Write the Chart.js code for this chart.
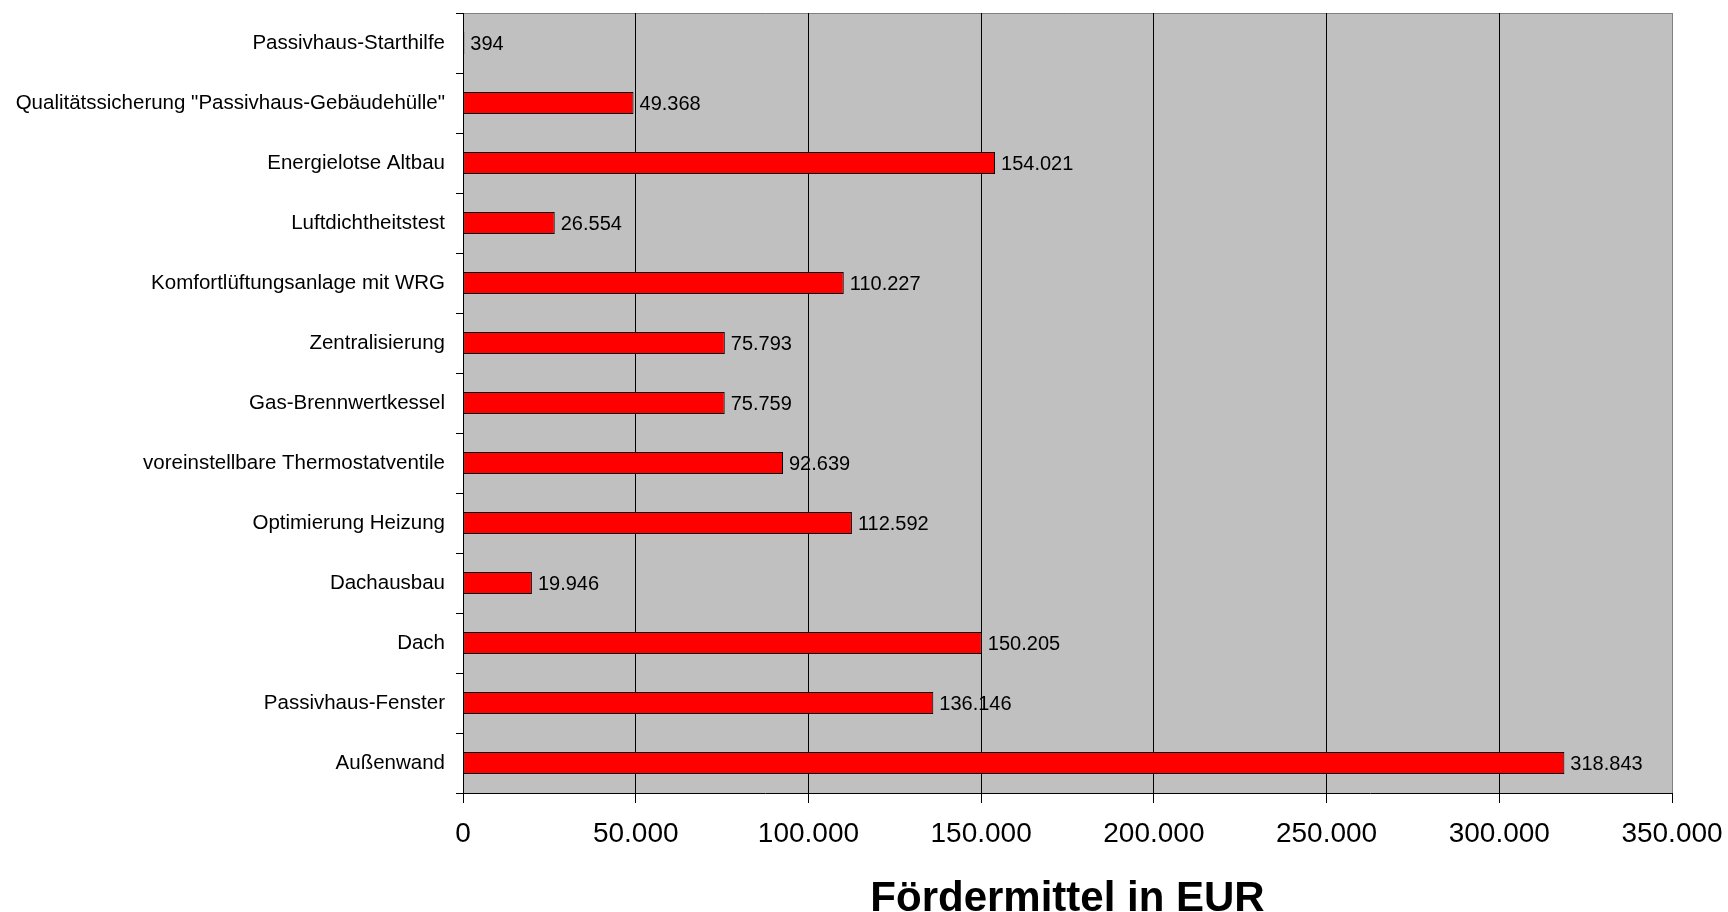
<!DOCTYPE html>
<html>
<head>
<meta charset="utf-8">
<script src="https://cdn.jsdelivr.net/npm/chart.js@4.4.1/dist/chart.umd.min.js"></script>
<style>
    html, body { margin: 0; padding: 0; background: #fff; }
    #wrap { width: 1728px; height: 912px; }
</style>
</head>
<body>
<div id="wrap"><canvas id="foerderChart" width="1728" height="912"></canvas></div>
<script>
const categories = [
    'Passivhaus-Starthilfe',
    'Qualitätssicherung "Passivhaus-Gebäudehülle"',
    'Energielotse Altbau',
    'Luftdichtheitstest',
    'Komfortlüftungsanlage mit WRG',
    'Zentralisierung',
    'Gas-Brennwertkessel',
    'voreinstellbare Thermostatventile',
    'Optimierung Heizung',
    'Dachausbau',
    'Dach',
    'Passivhaus-Fenster',
    'Außenwand'
];
const foerdermittel = [394, 49368, 154021, 26554, 110227, 75793, 75759, 92639, 112592, 19946, 150205, 136146, 318843];
const axisMax = 350000;
const axisStep = 50000;
const axisTitle = 'Fördermittel in EUR';

const FONT = '"Liberation Sans", Arial, sans-serif';

// German thousands separator
const fmt = (v) => String(v).replace(/\B(?=(\d{3})+(?!\d))/g, '.');

// grey plot background + grey top/right border
const plotBackground = {
    id: 'plotBackground',
    beforeDraw: (chart) => {
        const { ctx, chartArea: a } = chart;
        ctx.save();
        ctx.fillStyle = '#c0c0c0';
        ctx.fillRect(a.left, a.top, a.right - a.left, a.bottom - a.top);
        ctx.strokeStyle = '#808080';
        ctx.lineWidth = 1;
        ctx.beginPath();
        ctx.moveTo(a.left, a.top + 0.5);
        ctx.lineTo(a.right + 0.5, a.top + 0.5);
        ctx.lineTo(a.right + 0.5, a.bottom);
        ctx.stroke();
        ctx.restore();
    }
};

// value labels right of each bar
const valueLabels = {
    id: 'valueLabels',
    afterDatasetsDraw: (chart) => {
        const { ctx } = chart;
        const meta = chart.getDatasetMeta(0);
        ctx.save();
        ctx.font = '20px ' + FONT;
        ctx.fillStyle = '#000';
        ctx.textAlign = 'left';
        ctx.textBaseline = 'middle';
        meta.data.forEach((bar, i) => {
            ctx.fillText(fmt(foerdermittel[i]), bar.x + 6, bar.y + 1);
        });
        ctx.restore();
    }
};

const ctx = document.getElementById('foerderChart').getContext('2d');
const chart = new Chart(ctx, {
    type: 'bar',
    data: {
        labels: categories,
        datasets: [{
            data: foerdermittel,
            backgroundColor: '#ff0000',
            borderColor: '#000000',
            borderWidth: 1,
            borderSkipped: false,
            barPercentage: 0.37,
            categoryPercentage: 1
        }]
    },
    options: {
        indexAxis: 'y',
        responsive: false,
        animation: false,
        layout: { padding: { top: 13, right: 56, left: 0, bottom: 0 } },
        plugins: {
            legend: { display: false },
            tooltip: { enabled: false }
        },
        scales: {
            x: {
                min: 0,
                max: axisMax,
                ticks: {
                    stepSize: axisStep,
                    color: '#000',
                    padding: 14,
                    maxRotation: 0,
                    font: { family: FONT, size: 28 },
                    callback: (v) => fmt(v)
                },
                grid: {
                    color: (c) => (c.tick && c.tick.value === axisMax) ? '#808080' : '#000000',
                    tickColor: '#000000',
                    lineWidth: 1,
                    tickLength: 10
                },
                border: { color: '#000000', width: 1 },
                title: {
                    display: true,
                    text: axisTitle,
                    color: '#000',
                    padding: 0,
                    font: { family: FONT, size: 42, weight: 'bold', lineHeight: 0.62 }
                },
                afterFit: (scale) => {
                    scale.height = 119;
                    scale.paddingLeft = 0;
                    scale.paddingRight = 0;
                }
            },
            y: {
                ticks: {
                    color: '#000',
                    padding: 11,
                    font: { family: FONT, size: 20.5 }
                },
                grid: {
                    drawOnChartArea: false,
                    drawTicks: true,
                    tickLength: 7,
                    tickColor: '#000000',
                    offset: true
                },
                border: { color: '#000000', width: 1 },
                afterFit: (scale) => {
                    scale.width = 463;
                    scale.paddingTop = 0;
                    scale.paddingBottom = 0;
                }
            }
        }
    },
    plugins: [plotBackground, valueLabels]
});
</script>
</body>
</html>
